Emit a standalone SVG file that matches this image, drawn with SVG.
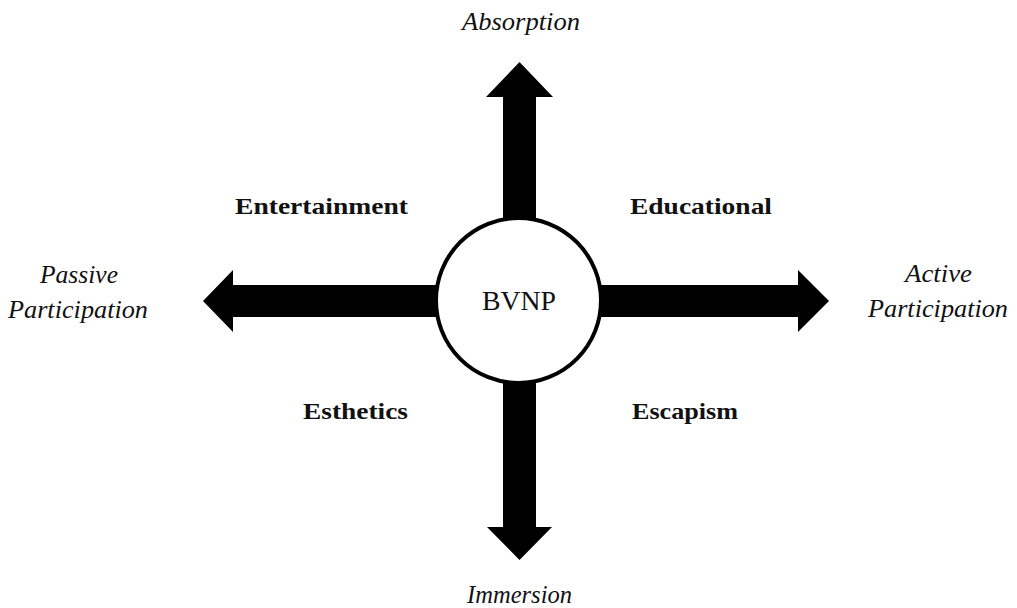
<svg xmlns="http://www.w3.org/2000/svg" width="1017" height="608" viewBox="0 0 1017 608">
<style>
.bg{fill:#ffffff}
.arrow{fill:#000000}
.hub{fill:#ffffff;stroke:#000000;stroke-width:4}
.axis{font-family:"Liberation Serif","DejaVu Serif",serif;font-style:italic;font-size:26px;fill:#111111;text-anchor:middle}
.quad{font-family:"Liberation Serif","DejaVu Serif",serif;font-weight:bold;font-size:24px;fill:#111111}
.center{font-family:"Liberation Serif","DejaVu Serif",serif;font-size:27px;fill:#111111;text-anchor:middle}
</style>
<rect class="bg" x="0" y="0" width="1017" height="608"/>
<g id="connectors">
  <polygon class="arrow" points="503,300 503,97 486,97 519.5,62 553,97 536,97 536,300"/>
  <polygon class="arrow" points="503,300 503,527 487,527 519.5,560 552,527 536,527 536,300"/>
  <polygon class="arrow" points="519,285 233,285 233,270 203,301 233,332 233,317 519,317"/>
  <polygon class="arrow" points="519,285 798,285 798,270 829,301 798,332 798,317 519,317"/>
</g>
<g id="node-bvnp">
  <circle class="hub" cx="518.5" cy="300.5" r="82.5"/>
  <text class="center" x="519" y="310" textLength="74" lengthAdjust="spacingAndGlyphs">BVNP</text>
</g>
<g id="label-absorption">
  <text class="axis" x="521" y="30" textLength="118" lengthAdjust="spacingAndGlyphs">Absorption</text>
</g>
<g id="label-immersion">
  <text class="axis" x="519.5" y="603" textLength="105" lengthAdjust="spacingAndGlyphs">Immersion</text>
</g>
<g id="label-passive">
  <text class="axis" x="79" y="283" textLength="78" lengthAdjust="spacingAndGlyphs">Passive</text>
  <text class="axis" x="78" y="318" textLength="140" lengthAdjust="spacingAndGlyphs">Participation</text>
</g>
<g id="label-active">
  <text class="axis" x="938.5" y="282" textLength="67" lengthAdjust="spacingAndGlyphs">Active</text>
  <text class="axis" x="938" y="317" textLength="140" lengthAdjust="spacingAndGlyphs">Participation</text>
</g>
<g id="node-entertainment">
  <text class="quad" x="235" y="214" textLength="173" lengthAdjust="spacingAndGlyphs">Entertainment</text>
</g>
<g id="node-educational">
  <text class="quad" x="630" y="214" textLength="142" lengthAdjust="spacingAndGlyphs">Educational</text>
</g>
<g id="node-esthetics">
  <text class="quad" x="303" y="419" textLength="105" lengthAdjust="spacingAndGlyphs">Esthetics</text>
</g>
<g id="node-escapism">
  <text class="quad" x="632" y="419" textLength="106" lengthAdjust="spacingAndGlyphs">Escapism</text>
</g>
</svg>
